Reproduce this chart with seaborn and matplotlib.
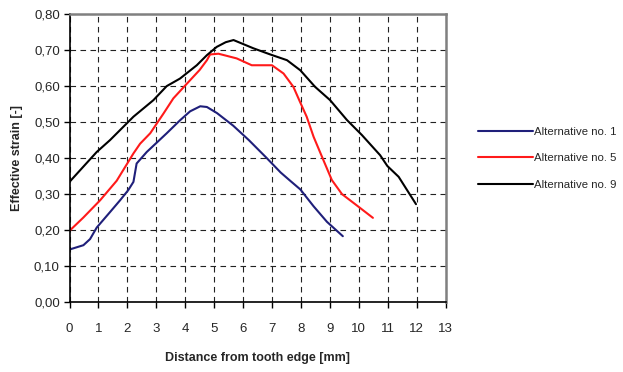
import matplotlib
matplotlib.use("Agg")
import matplotlib.pyplot as plt
import seaborn as sns
import pandas as pd
from matplotlib.ticker import FuncFormatter, MultipleLocator

# Data
alt1_x = [0.0, 0.48, 0.71, 0.94, 1.4, 1.75, 2.03, 2.21, 2.32, 2.67, 3.36, 3.82, 4.17, 4.52, 4.75, 5.1, 5.66, 6.2, 6.82, 7.3, 7.63, 7.98, 8.44, 8.9, 9.45]
alt1_y = [0.146, 0.158, 0.175, 0.207, 0.25, 0.283, 0.311, 0.334, 0.385, 0.417, 0.469, 0.505, 0.53, 0.544, 0.542, 0.525, 0.49, 0.45, 0.40, 0.36, 0.337, 0.313, 0.266, 0.223, 0.183]

alt5_x = [0.0, 0.48, 1.06, 1.63, 2.21, 2.44, 2.79, 3.25, 3.59, 4.06, 4.5, 4.75, 4.86, 5.15, 5.78, 6.3, 7.0, 7.4, 7.74, 7.97, 8.2, 8.44, 8.78, 9.07, 9.42, 9.99, 10.49]
alt5_y = [0.198, 0.235, 0.283, 0.337, 0.413, 0.44, 0.469, 0.524, 0.566, 0.607, 0.645, 0.672, 0.688, 0.69, 0.677, 0.658, 0.658, 0.635, 0.598, 0.556, 0.515, 0.459, 0.394, 0.339, 0.30, 0.265, 0.234]

alt9_x = [0.0, 0.94, 1.4, 2.21, 2.9, 3.36, 3.82, 4.4, 4.75, 5.09, 5.4, 5.67, 6.36, 6.94, 7.52, 7.98, 8.49, 9.01, 9.59, 10.11, 10.74, 10.99, 11.38, 11.98]
alt9_y = [0.334, 0.417, 0.45, 0.515, 0.561, 0.60, 0.621, 0.658, 0.686, 0.709, 0.722, 0.728, 0.705, 0.688, 0.672, 0.644, 0.598, 0.561, 0.506, 0.464, 0.408, 0.378, 0.348, 0.272]

labels = ["Alternative no. 1", "Alternative no. 5", "Alternative no. 9"]
colors = ["#1f1f7a", "#ff1a1a", "#000000"]

frames = []
for lab, xs, ys in zip(labels, [alt1_x, alt5_x, alt9_x], [alt1_y, alt5_y, alt9_y]):
    frames.append(pd.DataFrame({"x": xs, "y": ys, "series": lab}))
df = pd.concat(frames, ignore_index=True)

sns.set_style("white")
plt.rcParams['font.family'] = ['Liberation Sans', 'DejaVu Sans']

fig = plt.figure(figsize=(6.23, 3.72), dpi=100)
ax = fig.add_axes([0.1116, 0.188, 0.6035, 0.774])

sns.lineplot(data=df, x="x", y="y", hue="series", palette=dict(zip(labels, colors)),
             sort=False, estimator=None, linewidth=1.5, ax=ax, legend=True)

ax.set_xlim(0, 13)
ax.set_ylim(0, 0.80)
ax.xaxis.set_major_locator(MultipleLocator(1))
ax.yaxis.set_major_locator(MultipleLocator(0.1))
ax.yaxis.set_major_formatter(FuncFormatter(lambda v, p: f"{v:.2f}".replace('.', ',')))

ax.grid(True, color="#222222", linestyle=(0, (5, 4)), linewidth=0.8)
ax.set_axisbelow(True)

for s in ["left", "bottom"]:
    ax.spines[s].set_color("black")
    ax.spines[s].set_linewidth(1.2)
for s in ["top", "right"]:
    ax.spines[s].set_color("#808080")
    ax.spines[s].set_linewidth(1.8)

ax.tick_params(axis="both", which="major", direction="out", length=4, width=1,
               color="black", labelsize=9.5, left=True, bottom=True)
ax.tick_params(axis="x", pad=11)
ax.tick_params(axis="y", pad=3)

ax.set_xlabel("Distance from tooth edge [mm]", fontsize=9, fontweight="bold", labelpad=12)
ax.set_ylabel("Effective strain [-]", fontsize=9, fontweight="bold", labelpad=8)

leg = ax.legend(loc="center left", bbox_to_anchor=(1.06, 0.5), frameon=False,
                fontsize=8.2, handlelength=4.8, handletextpad=0.1, labelspacing=1.45)
for line in leg.get_lines():
    line.set_linewidth(1.5)

fig.savefig("out.png", dpi=100)
